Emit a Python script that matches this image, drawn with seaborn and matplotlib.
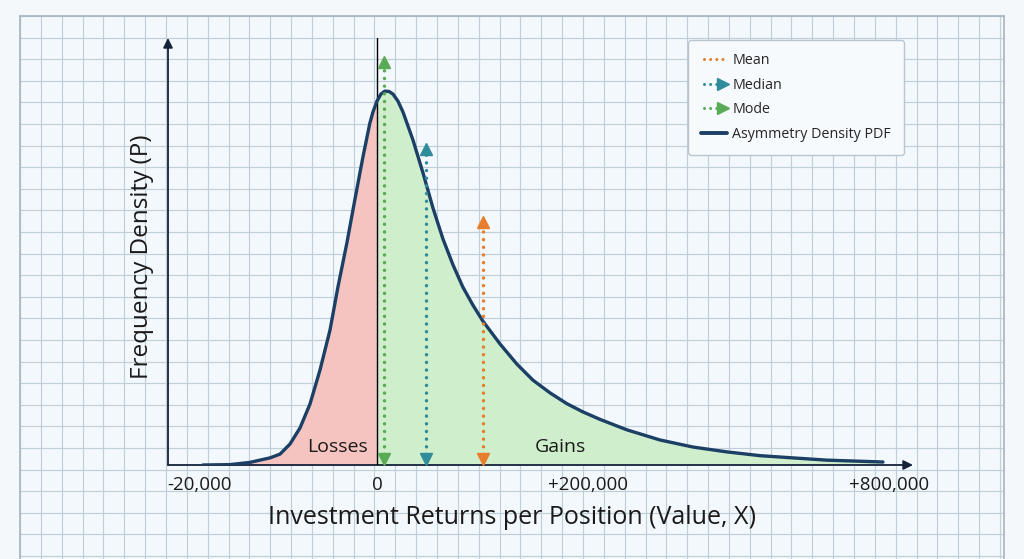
import numpy as np
import matplotlib
matplotlib.use('Agg')
import matplotlib.pyplot as plt
import seaborn as sns
from matplotlib.lines import Line2D
from matplotlib.legend_handler import HandlerBase

# density curve
# x in plot units (0 = break-even), density scaled so the peak is 1
x_pos = [-8.35, -7.05, -6.09, -5.13, -4.65, -4.17, -3.69, -3.21, -2.73, -2.25,
         -1.87, -1.44, -1.06, -0.67, -0.34, -0.19, 0.0, 0.19, 0.38, 0.58,
         0.77, 1.01, 1.25, 1.73, 2.21, 2.69, 3.17, 3.65, 4.12, 4.60,
         5.08, 5.90, 6.71, 7.48, 8.30, 9.11, 9.88, 10.70, 11.99, 13.57,
         15.16, 16.79, 18.37, 19.95, 21.58, 24.27]
density = [0.0, 0.001, 0.007, 0.019, 0.029, 0.056, 0.099, 0.163, 0.254, 0.361,
           0.476, 0.594, 0.709, 0.824, 0.914, 0.944, 0.973, 0.992, 1.0, 0.999,
           0.992, 0.973, 0.944, 0.869, 0.781, 0.687, 0.604, 0.535, 0.476, 0.428,
           0.385, 0.324, 0.270, 0.227, 0.193, 0.164, 0.142, 0.122, 0.094, 0.067,
           0.048, 0.035, 0.025, 0.019, 0.013, 0.008]

tick_pos = [-8.49, 0, 10.12, 24.56]
tick_labels = ['-20,000', '0', '+200,000', '+800,000']

stat_names = ['Mean', 'Median', 'Mode']
stat_pos = [5.08, 2.35, 0.34]
stat_top = [0.668, 0.861, 1.096]
stat_colors = ['#e67e2e', '#2f8c9b', '#5aab55']

curve_color = '#1c3f66'
loss_color = '#f5c4c1'
gain_color = '#cfeecb'

sns.set_theme(style='white')
plt.rcParams['font.family'] = ['Open Sans', 'DejaVu Sans']

fig = plt.figure(figsize=(10.24, 5.59), dpi=100)
fig.patch.set_facecolor('#f5f8fa')

# graph paper background
bg = fig.add_axes([20 / 1024, 0, 984 / 1024, 543 / 559])
bg.set_facecolor('#f3f8fc')
bg.set_xlim(0, 984)
bg.set_ylim(543, 0)
bg.set_xticks(np.arange(0, 984, 20.85))
bg.set_yticks(np.arange(0, 543, 21.6))
bg.tick_params(length=0, labelbottom=False, labelleft=False)
bg.grid(True, color='#c0ced8', lw=0.85)
for side in ['top', 'left', 'right']:
    bg.spines[side].set_color('#a7b8c2')
bg.spines['bottom'].set_visible(False)

# main plot
ax = fig.add_axes([168 / 1024, (559 - 465) / 559, (913 - 168) / 1024, (465 - 38) / 559])
ax.set_facecolor('none')
xmin, xmax = -10.02, 25.71
ymax = 1.142
ax.set_xlim(xmin, xmax)
ax.set_ylim(0, ymax)
for s in ax.spines.values():
    s.set_visible(False)

x = np.array(x_pos)
y = np.array(density)
ax.fill_between(x[x <= 0], y[x <= 0], color=loss_color, lw=0)
ax.fill_between(x[x >= 0], y[x >= 0], color=gain_color, lw=0)

sns.lineplot(x=x_pos, y=density, ax=ax, color=curve_color, lw=2.4, zorder=5)

ax.plot([0, 0], [0, ymax], color='black', lw=1, zorder=4)

arrow_kw = dict(arrowstyle='-|>', color='#14223a', lw=1.3, mutation_scale=14, shrinkA=0, shrinkB=0)
ax.annotate('', xy=(xmax, 0), xytext=(xmin, 0), arrowprops=arrow_kw, annotation_clip=False)
ax.annotate('', xy=(xmin, ymax), xytext=(xmin, 0), arrowprops=arrow_kw, annotation_clip=False)

dots = (0, (0.01, 2.2))
for p, top, c in zip(stat_pos, stat_top, stat_colors):
    ax.plot([p, p], [0.03, top - 0.03], ls=dots, lw=2.5, color=c,
            dash_capstyle='round', zorder=6)
    ax.plot(p, top - 0.017, marker='^', ms=9, color=c, zorder=7)
    ax.plot(p, 0.017, marker='v', ms=9, color=c, zorder=7)

ax.text(-1.87, 0.048, 'Losses', ha='center', va='center', fontsize=14, color='#1a1a1a')
ax.text(8.78, 0.048, 'Gains', ha='center', va='center', fontsize=14, color='#1a1a1a')

ax.set_xticks(tick_pos)
ax.set_xticklabels(tick_labels, fontsize=13.5, color='#1a1a1a')
ax.set_yticks([])
ax.tick_params(axis='x', length=0, pad=8)
ax.set_xlabel('Investment Returns per Position (Value, X)', fontsize=18, color='#1a1a1a', labelpad=8)
ax.set_ylabel('Frequency Density (P)', fontsize=17.5, color='#1a1a1a', labelpad=10)
ax.xaxis.label.set_x(0.462)
ax.yaxis.label.set_y(0.487)


class DotArrow(HandlerBase):
    def __init__(self, color, head):
        super().__init__()
        self.color = color
        self.head = head

    def create_artists(self, legend, orig_handle, xdescent, ydescent, width, height, fontsize, trans):
        yc = height / 2 - ydescent
        end = width * 0.62 if self.head else width
        arts = [Line2D([-xdescent + 2, end], [yc, yc], ls=(0, (0.01, 2.0)), lw=2.2, color=self.color,
                       dash_capstyle='round', transform=trans)]
        if self.head:
            arts.append(Line2D([width * 0.84], [yc], marker='>', ms=8, color=self.color, transform=trans))
        return arts


handles = []
hmap = {}
for name, c in zip(stat_names, stat_colors):
    h = Line2D([], [], color=c, label=name)
    handles.append(h)
    hmap[h] = DotArrow(c, name != 'Mean')
handles.append(Line2D([], [], color=curve_color, lw=2.8, label='Asymmetry Density PDF'))

leg = fig.legend(handles=handles, handler_map=hmap, loc='upper left',
                 bbox_to_anchor=(688 / 1024, 1 - 40 / 559), fontsize=10.3, frameon=True,
                 fancybox=True, borderpad=0.9, labelspacing=0.68, handlelength=1.85,
                 handletextpad=0.35, borderaxespad=0)
leg.get_frame().set_facecolor('#f7fafc')
leg.get_frame().set_edgecolor('#b9c6cf')
leg.get_frame().set_alpha(1)

fig.savefig('out.png', dpi=100)
